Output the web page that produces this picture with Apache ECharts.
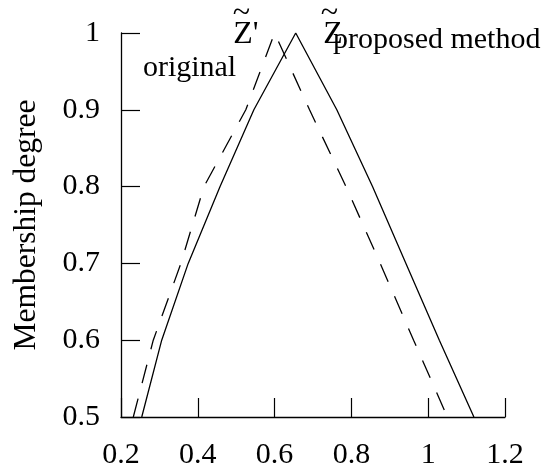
<!DOCTYPE html>
<html>
<head>
<meta charset="utf-8">
<script src="https://cdn.jsdelivr.net/npm/echarts@6/dist/echarts.min.js"></script>
<style>html,body{margin:0;padding:0;background:#fff;}#c{width:548px;height:471px;}</style>
</head>
<body>
<div id="c"></div>
<script>
// Membership levels (alpha-cuts), left side up to peak then right side down
var membership = [0.5, 0.6, 0.7, 0.8, 0.9, 1.0, 0.9, 0.8, 0.7, 0.6, 0.5];
// Proposed method Z~ (solid)
var proposedX = [0.254, 0.306, 0.375, 0.458, 0.546, 0.655, 0.762, 0.855, 0.942, 1.029, 1.119];
// Original Z~' (dashed)
var originalX = [0.232, 0.284, 0.356, 0.416, 0.525, 0.600, 0.691, 0.786, 0.875, 0.962, 1.050];
var xTicks = [0.2, 0.4, 0.6, 0.8, 1.0, 1.2];
var yTicks = [0.5, 0.6, 0.7, 0.8, 0.9, 1.0];
// Text annotations in data coordinates (x, y = vertical centre)
var notes = [
  {text: 'original', x: 0.257, y: 0.954, size: 30, align: 'left'},
  {text: 'proposed method', x: 0.752, y: 0.9905, size: 30, align: 'left'},
  {text: "Z'", x: 0.492, y: 0.998, size: 32, align: 'left'},
  {text: 'Z', x: 0.7265, y: 0.998, size: 32, align: 'left'},
  {text: '~', x: 0.5138, y: 1.0257, size: 32, align: 'center'},
  {text: '~', x: 0.743, y: 1.0257, size: 32, align: 'center'}
];

function pairs(xs, ys) { return xs.map(function (x, i) { return [x, ys[i]]; }); }

var FONT = '"Liberation Serif", "Times New Roman", serif';
var chart = echarts.init(document.getElementById('c'), null, {renderer: 'canvas'});
var axisCommon = {
  type: 'value',
  axisLine: {show: true, onZero: false, lineStyle: {color: '#000', width: 1.3}},
  axisTick: {show: true, inside: true, length: 19, lineStyle: {color: '#000', width: 1.2}},
  splitLine: {show: false},
  axisLabel: {color: '#000', fontFamily: FONT, fontSize: 30}
};
chart.setOption({
  animation: false,
  backgroundColor: '#fff',
  grid: {left: 121, right: 43, top: 33, bottom: 54, containLabel: false},
  xAxis: Object.assign({}, axisCommon, {
    min: xTicks[0], max: xTicks[xTicks.length - 1], interval: 0.2,
    axisLabel: Object.assign({}, axisCommon.axisLabel, {margin: 23})
  }),
  yAxis: Object.assign({}, axisCommon, {
    min: yTicks[0], max: yTicks[yTicks.length - 1], interval: 0.1,
    name: 'Membership degree', nameLocation: 'middle', nameGap: 78, nameRotate: 90,
    nameTextStyle: {color: '#000', fontFamily: FONT, fontSize: 31.5},
    axisLabel: Object.assign({}, axisCommon.axisLabel, {margin: 21})
  }),
  series: [
    {type: 'line', data: pairs(proposedX, membership), showSymbol: false, symbol: 'none',
     lineStyle: {color: '#000', width: 1.3, type: 'solid'}},
    {type: 'line', data: pairs(originalX, membership), showSymbol: false, symbol: 'none',
     lineStyle: {color: '#000', width: 1.3, type: [19, 16]}}
  ]
});
var g = notes.map(function (n) {
  var p = chart.convertToPixel({gridIndex: 0}, [n.x, n.y]);
  return {type: 'text', x: p[0], y: p[1],
    style: {text: n.text, fill: '#000', font: n.size + 'px ' + FONT, textAlign: n.align, textVerticalAlign: 'middle'}};
});
chart.setOption({graphic: g});
</script>
</body>
</html>
